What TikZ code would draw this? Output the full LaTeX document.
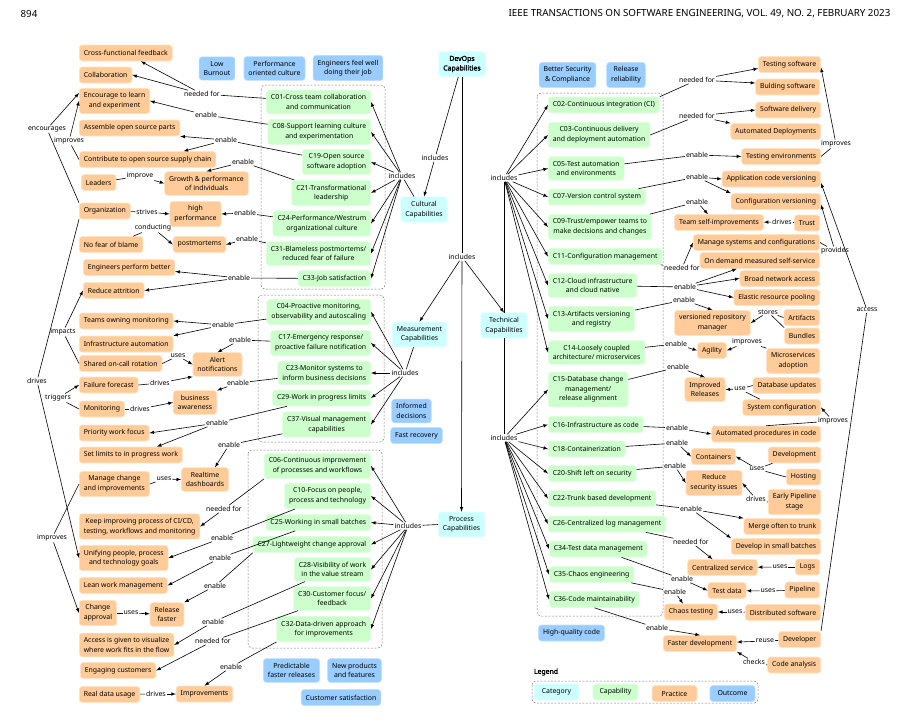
\documentclass[tikz,border=0pt]{standalone}
\usepackage{fontspec}
\setmainfont{Noto Sans}
\newfontfamily\boldsans{Noto Sans}[FakeBold=2.2]
\usepackage{xcolor}
\usepackage{tikz}
\definecolor{catfill}{HTML}{CCFFFF}
\definecolor{capfill}{HTML}{CCFFCC}
\definecolor{pracfill}{HTML}{FFCC99}
\definecolor{outfill}{HTML}{99CCFF}
\begin{document}
\begin{tikzpicture}[x=1pt, y=-1pt, line width=0.6pt,
  every node/.style={font=\fontsize{6.9}{9.6}\selectfont, align=center},
  box/.style={rounded corners=3pt, inner xsep=4.5pt, inner ysep=4.4pt, minimum height=16pt},
  catbox/.style={box, fill=catfill, draw=catfill!60!white},
  capbox/.style={box, fill=capfill, draw=capfill!60!white},
  pracbox/.style={box, fill=pracfill, draw=pracfill!55!white},
  outbox/.style={box, fill=outfill, draw=outfill!60!white},
  lbl/.style={inner sep=0.8pt},
  grp/.style={draw=gray, dash pattern=on 2pt off 1.5pt, rounded corners=4pt, line width=0.5pt}]
\fill[white] (0,0) rectangle (911,720);
\useasboundingbox (0,0) rectangle (911,720);
\node[anchor=west, font=\fontsize{9.8}{11}\selectfont] (pgno) at (17,14) {894};
\node[anchor=east, font=\fontsize{9.8}{11}\selectfont] (hdr) at (894,14) {IEEE TRANSACTIONS ON SOFTWARE ENGINEERING, VOL. 49, NO. 2, FEBRUARY 2023};

\draw[grp] (261,85) rectangle (385,289);
\draw[grp] (258,295) rectangle (384,442);
\draw[grp] (248,450) rectangle (382,648);
\draw[grp] (537,93) rectangle (663,616);

\node[outbox] (lowb) at (217,68.5) {Low\\Burnout};
\node[outbox] (perfc) at (274.5,68.5) {Performance\\oriented culture};
\node[outbox] (engw) at (348,68) {Engineers feel well\\doing their job};
\node[outbox] (bsec) at (567.5,75) {Better Security\\\& Compliance};
\node[outbox] (relr) at (626,75) {Release\\reliability};
\node[outbox] (infd) at (411.5,411) {Informed\\decisions};
\node[outbox] (fastr) at (416.5,435.5) {Fast recovery};
\node[outbox] (predf) at (291.5,670.5) {Predictable\\faster releases};
\node[outbox] (newp) at (354.5,670.5) {New products\\and features};
\node[outbox] (custs) at (341,697.5) {Customer satisfaction};
\node[outbox] (hqc) at (571.5,633) {High-quality code};

\node[catbox] (devops) at (462,64) {{\boldsans DevOps}\\{\boldsans Capabilities}};
\node[catbox] (cul) at (424,209.5) {Cultural\\Capabilities};
\node[catbox] (meas) at (419.5,334.5) {Measurement\\Capabilities};
\node[catbox] (tech) at (504,325.5) {Technical\\Capabilities};
\node[catbox] (proc) at (461.5,524.5) {Process\\Capabilities};

\node[capbox, anchor=east] (c01) at (371,102) {C01-Cross team collaboration\\and communication};
\node[capbox, anchor=east] (c08) at (371,132) {C08-Support learning culture\\and experimentation};
\node[capbox, anchor=east] (c19) at (371,162) {C19-Open source\\software adoption};
\node[capbox, anchor=east] (c21) at (371,193) {C21-Transformational\\leadership};
\node[capbox, anchor=east] (c24) at (371,223.5) {C24-Performance/Westrum\\organizational culture};
\node[capbox, anchor=east] (c31) at (371,253.5) {C31-Blameless postmortems/\\reduced fear of failure};
\node[capbox, anchor=east] (c33) at (371,278.5) {C33-Job satisfaction};
\node[capbox, anchor=east] (c04) at (371,312) {C04-Proactive monitoring,\\observability and autoscaling};
\node[capbox, anchor=east] (c17) at (371,343) {C17-Emergency response/\\proactive failure notification};
\node[capbox, anchor=east] (c23) at (371,373) {C23-Monitor systems to\\inform business decisions};
\node[capbox, anchor=east] (c29) at (371,398) {C29-Work in progress limits};
\node[capbox, anchor=east] (c37) at (371,424.5) {C37-Visual management\\capabilities};
\node[capbox, anchor=east] (c06) at (371,466) {C06-Continuous improvement\\of processes and workflows};
\node[capbox, anchor=east] (c10) at (371,496) {C10-Focus on people,\\process and technology};
\node[capbox, anchor=east] (c25) at (371,522.5) {C25-Working in small batches};
\node[capbox, anchor=east] (c27) at (371,544.5) {C27-Lightweight change approval};
\node[capbox, anchor=east] (c28) at (371,569.5) {C28-Visibility of work\\in the value stream};
\node[capbox, anchor=east] (c30) at (371,598.5) {C30-Customer focus/\\feedback};
\node[capbox, anchor=east] (c32) at (371,629) {C32-Data-driven approach\\for improvements};

\node[capbox, anchor=west] (c02) at (548,105) {C02-Continuous integration (CI)};
\node[capbox, anchor=west] (c03) at (548,135) {C03-Continuous delivery\\and deployment automation};
\node[capbox, anchor=west] (c05) at (548,168.5) {C05-Test automation\\and environments};
\node[capbox, anchor=west] (c07) at (548,197) {C07-Version control system};
\node[capbox, anchor=west] (c09) at (548,227) {C09-Trust/empower teams to\\make decisions and changes};
\node[capbox, anchor=west] (c11) at (548,256.5) {C11-Configuration management};
\node[capbox, anchor=west] (c12) at (548,285.5) {C12-Cloud infrastructure\\and cloud native};
\node[capbox, anchor=west] (c13) at (548,319) {C13-Artifacts versioning\\and registry};
\node[capbox, anchor=west] (c14) at (548,352.5) {C14-Loosely coupled\\architecture/ microservices};
\node[capbox, anchor=west] (c15) at (548,389.5) {C15-Database change\\management/\\release alignment};
\node[capbox, anchor=west] (c16) at (548,424.5) {C16-Infrastructure as code};
\node[capbox, anchor=west] (c18) at (548,449) {C18-Containerization};
\node[capbox, anchor=west] (c20) at (548,473.5) {C20-Shift left on security};
\node[capbox, anchor=west] (c22) at (548,498.5) {C22-Trunk based development};
\node[capbox, anchor=west] (c26) at (548,524) {C26-Centralized log management};
\node[capbox, anchor=west] (c34) at (549,549) {C34-Test data management};
\node[capbox, anchor=west] (c35) at (549,574.5) {C35-Chaos engineering};
\node[capbox, anchor=west] (c36) at (549,599.5) {C36-Code maintainability};

\node[pracbox, anchor=west] (cff) at (79,53) {Cross-functional feedback};
\node[pracbox, anchor=west] (collab) at (79,75) {Collaboration};
\node[pracbox, anchor=west] (enc) at (79,101) {Encourage to learn\\and experiment};
\node[pracbox, anchor=west] (asm) at (79,128) {Assemble open source parts};
\node[pracbox, anchor=west] (contr) at (79,159.5) {Contribute to open source supply chain};
\node[pracbox, anchor=west] (lead) at (81,182.5) {Leaders};
\node[pracbox] (growth) at (206.5,183.5) {Growth \& performance\\of individuals};
\node[pracbox, anchor=west] (org) at (79,211) {Organization};
\node[pracbox] (hiperf) at (195.5,214) {high\\performance};
\node[pracbox, anchor=west] (nofear) at (79,244.5) {No fear of blame};
\node[pracbox] (postm) at (199.5,244.5) {postmortems};
\node[pracbox, anchor=west] (engpb) at (83,267.5) {Engineers perform better};
\node[pracbox, anchor=west] (redatt) at (83,290.5) {Reduce attrition};
\node[pracbox, anchor=west] (teammon) at (79,321) {Teams owning monitoring};
\node[pracbox, anchor=west] (infra) at (79,344) {Infrastructure automation};
\node[pracbox, anchor=west] (oncall) at (79,363.5) {Shared on-call rotation};
\node[pracbox] (alert) at (217.5,364.5) {Alert\\notifications};
\node[pracbox, anchor=west] (failf) at (79,385) {Failure forecast};
\node[pracbox, anchor=west] (monit) at (79,409) {Monitoring};
\node[pracbox] (busaw) at (195,402.5) {business\\awareness};
\node[pracbox, anchor=west] (prio) at (79,433) {Priority work focus};
\node[pracbox, anchor=west] (setlim) at (79,455) {Set limits to in progress work};
\node[pracbox, anchor=west] (mchange) at (79,484) {Manage change\\and improvements};
\node[pracbox] (rtdash) at (205,479.5) {Realtime\\dashboards};
\node[pracbox, anchor=west] (keepimp) at (79,526.5) {Keep improving process of CI/CD,\\testing, workflows and monitoring};
\node[pracbox, anchor=west] (unify) at (79,558) {Unifying people, process\\and technology goals};
\node[pracbox, anchor=west] (lean) at (79,585.5) {Lean work management};
\node[pracbox, anchor=west] (chappr) at (79,613) {Change\\approval};
\node[pracbox] (relfast) at (167,614.5) {Release\\faster};
\node[pracbox, anchor=west] (access) at (79,645) {Access is given to visualize\\where work fits in the flow};
\node[pracbox, anchor=west] (engcust) at (80,670.5) {Engaging customers};
\node[pracbox, anchor=west] (realdata) at (79,694.5) {Real data usage};
\node[pracbox] (improv) at (204.5,694) {Improvements};

\node[pracbox, anchor=east] (testsw) at (821,64.5) {Testing software};
\node[pracbox, anchor=east] (buildsw) at (820,87) {Bulding software};
\node[pracbox, anchor=east] (swdel) at (821,110) {Software delivery};
\node[pracbox, anchor=east] (autodep) at (821,131.5) {Automated Deployments};
\node[pracbox, anchor=east] (testenv) at (821,156.5) {Testing environments};
\node[pracbox, anchor=east] (appver) at (821,179) {Application code versioning};
\node[pracbox, anchor=east] (confver) at (821,201.5) {Configuration versioning};
\node[pracbox] (selfimp) at (719,222.5) {Team self-improvements};
\node[pracbox, anchor=east] (trust) at (820,223) {Trust};
\node[pracbox, anchor=east] (mansys) at (820,242.5) {Manage systems and configurations};
\node[pracbox, anchor=east] (ondem) at (820,260.5) {On demand measured self-service};
\node[pracbox, anchor=east] (broadnet) at (820,278.5) {Broad network access};
\node[pracbox, anchor=east] (elastic) at (820,297.5) {Elastic resource pooling};
\node[pracbox] (repoman) at (712.5,323) {versioned repository\\manager};
\node[pracbox, anchor=east] (artif) at (820,317.5) {Artifacts};
\node[pracbox, anchor=east] (bundl) at (820,336) {Bundles};
\node[pracbox] (agil) at (712,350.5) {Agility};
\node[pracbox, anchor=east] (micro) at (820,361) {Microservices\\adoption};
\node[pracbox] (imprel) at (705,389.5) {Improved\\Releases};
\node[pracbox, anchor=east] (dbupd) at (821,385.5) {Database updates};
\node[pracbox, anchor=east] (syscon) at (821,407.5) {System configuration};
\node[pracbox, anchor=east] (autoproc) at (821,434) {Automated procedures in code};
\node[pracbox] (contain) at (713.5,456.5) {Containers};
\node[pracbox, anchor=east] (develop) at (821,455) {Development};
\node[pracbox, anchor=east] (hosting) at (821,477) {Hosting};
\node[pracbox] (redsec) at (714,483) {Reduce\\security issues};
\node[pracbox, anchor=east] (earlyp) at (821,502) {Early Pipeline\\stage};
\node[pracbox, anchor=east] (merge) at (821,526.5) {Merge often to trunk};
\node[pracbox, anchor=east] (smallb) at (821,546.5) {Develop in small batches};
\node[pracbox] (centsrv) at (722.5,567.5) {Centralized service};
\node[pracbox, anchor=east] (logs) at (820,567) {Logs};
\node[pracbox] (testd) at (727,590.5) {Test data};
\node[pracbox, anchor=east] (pipe) at (820,590) {Pipeline};
\node[pracbox] (chaost) at (691,612) {Chaos testing};
\node[pracbox, anchor=east] (distsw) at (821,612.5) {Distributed software};
\node[pracbox] (fastdev) at (700,643.5) {Faster development};
\node[pracbox, anchor=east] (developer) at (821,639.5) {Developer};
\node[pracbox, anchor=east] (codean) at (821,665) {Code analysis};

\node[lbl] (incdev) at (435,158) {includes};
\node[lbl] (incmain) at (462,257) {includes};
\draw (devops) -- (incdev);
\draw[-latex] (incdev) -- (cul.north);
\draw (devops) -- (incmain);
\draw[-latex] (incmain) -- (meas.north);
\draw[-latex] (incmain) -- (tech.north);
\draw[-latex] (incmain) -- (proc.north);

\node[lbl] (inccul) at (402,176) {includes};
\draw ([xshift=-10pt]cul.north) -- (inccul);
\draw[-latex] (inccul) -- (c01.east);
\draw[-latex] (inccul) -- (c08.east);
\draw[-latex] (inccul) -- (c19.east);
\draw[-latex] (inccul) -- (c21.east);
\draw[-latex] (inccul) -- (c24.east);
\draw[-latex] (inccul) -- (c31.east);
\draw[-latex] (inccul) -- (c33.east);

\node[lbl] (incmeas) at (405,373) {includes};
\draw ([xshift=-6pt]meas.south) -- (incmeas);
\draw[-latex] (incmeas) -- (c04.east);
\draw[-latex] (incmeas) -- (c17.east);
\draw[-latex] (incmeas) -- (c23.east);
\draw[-latex] (incmeas) -- (c29.east);
\draw[-latex] (incmeas) -- (c37.east);

\node[lbl] (incproc) at (408,526) {includes};
\draw (proc.west) -- (incproc);
\draw[-latex] (incproc) -- (c06.east);
\draw[-latex] (incproc) -- (c10.east);
\draw[-latex] (incproc) -- (c25.east);
\draw[-latex] (incproc) -- (c27.east);
\draw[-latex] (incproc) -- (c28.east);
\draw[-latex] (incproc) -- (c30.east);
\draw[-latex] (incproc) -- (c32.east);

\node[lbl] (inctecha) at (504,178) {includes};
\node[lbl] (inctechb) at (504,438) {includes};
\draw (tech.north) -- (inctecha);
\draw (tech.south) -- (inctechb);
\draw[-latex] (inctecha) -- (c02.west);
\draw[-latex] (inctecha) -- (c03.west);
\draw[-latex] (inctecha) -- (c05.west);
\draw[-latex] (inctecha) -- (c07.west);
\draw[-latex] (inctecha) -- (c09.west);
\draw[-latex] (inctecha) -- (c11.west);
\draw[-latex] (inctecha) -- (c12.west);
\draw[-latex] (inctecha) -- (c13.west);
\draw[-latex] (inctecha) -- (c14.west);
\draw[-latex] (inctechb) -- (c15.west);
\draw[-latex] (inctechb) -- (c16.west);
\draw[-latex] (inctechb) -- (c18.west);
\draw[-latex] (inctechb) -- (c20.west);
\draw[-latex] (inctechb) -- (c22.west);
\draw[-latex] (inctechb) -- (c26.west);
\draw[-latex] (inctechb) -- (c34.west);
\draw[-latex] (inctechb) -- (c35.west);
\draw[-latex] (inctechb) -- (c36.west);

\node[lbl] (nf1) at (202,94) {needed for};
\draw (c01) -- (nf1);
\draw[-latex] (nf1) -- ([xshift=15pt]cff.south);
\draw[-latex] (nf1) -- (collab.east);
\node[lbl] (en1) at (206,115) {enable};
\draw (c08) -- (en1);
\draw[-latex] (en1) -- (enc.east);
\node[lbl] (en2) at (226,140) {enable};
\draw (c19) -- (en2);
\draw[-latex] (en2) -- (asm.south east);
\draw[-latex] (en2) -- ([xshift=36pt]contr.north);
\node[lbl] (en3) at (243,162) {enable};
\draw (c21) -- (en3);
\draw[-latex] (en3) -- (growth.north);
\node[lbl] (imp1) at (140,176) {improve};
\draw (lead) -- (imp1);
\draw[-latex] (imp1) -- (growth.west);
\node[lbl] (str) at (147,212) {strives};
\draw (org) -- (str);
\draw[-latex] (str) -- (hiperf.west);
\node[lbl] (en4) at (245,213) {enable};
\draw (c24) -- (en4);
\draw[-latex] (en4) -- (hiperf.east);
\node[lbl] (cond) at (153,228) {conducting};
\draw ([xshift=-10pt]nofear.north east) -- (cond);
\draw[-latex] (cond) -- (postm.west);
\node[lbl] (en5) at (247,239) {enable};
\draw (c31) -- (en5);
\draw[-latex] (en5) -- (postm.east);
\node[lbl] (en6) at (239,278) {enable};
\draw (c33) -- (en6);
\draw[-latex] (en6) -- ([yshift=-4pt]engpb.east);
\draw[-latex] (en6) -- (redatt.east);
\node[lbl] (impc) at (63,332) {impacts};
\draw (oncall.west) -- (impc);
\draw[-latex] (impc) -- (redatt.west);
\node[lbl] (encr) at (47,129) {encourages};
\draw (org.north west) -- (encr);
\draw[-latex] (encr) -- ([yshift=8pt]enc.west);
\node[lbl] (imp2) at (69,141) {improves};
\draw (contr.west) -- (imp2);
\draw[-latex] (imp2) -- (enc.west);
\node[lbl] (drv1) at (37,381) {drives};
\draw (org.south west) -- (drv1);
\draw[-latex] (drv1) -- (unify.west);
\node[lbl] (imp3) at (52,538) {improves};
\draw (mchange.west) -- (imp3);
\draw[-latex] (imp3) -- (chappr.west);

\node[lbl] (en7) at (223,325) {enable};
\draw (c04) -- (en7);
\draw[-latex] (en7) -- (teammon.east);
\draw[-latex] (en7) -- (infra.north east);
\node[lbl] (en8) at (240,340) {enable};
\draw (c17) -- (en8);
\draw[-latex] (en8) -- (alert.north);
\node[lbl] (use1) at (178,356) {uses};
\draw (oncall.east) -- (use1);
\draw[-latex] (use1) -- (alert.west);
\node[lbl] (drv2) at (160,383) {drives};
\draw (failf.east) -- (drv2);
\draw[-latex] (drv2) -- (alert.south west);
\node[lbl] (trg) at (58,398) {triggers};
\draw (monit.west) -- (trg);
\draw[-latex] (trg) -- (failf.west);
\node[lbl] (drv3) at (140,409) {drives};
\draw (monit.east) -- (drv3);
\draw[-latex] (drv3) -- (busaw.west);
\node[lbl] (en9) at (238,383) {enable};
\draw (c23) -- (en9);
\draw[-latex] (en9) -- (busaw.north east);
\node[lbl] (en10) at (217,423) {enable};
\draw (c29) -- (en10);
\draw[-latex] (en10) -- (prio.east);
\draw[-latex] (en10) -- ([xshift=26pt]setlim.north);
\node[lbl] (en11) at (229,445) {enable};
\draw (c37) -- (en11);
\draw[-latex] (en11) -- ([xshift=10pt]rtdash.north);
\node[lbl] (use2) at (164,479) {uses};
\draw (mchange.east) -- (use2);
\draw[-latex] (use2) -- (rtdash.west);

\node[lbl] (nf2) at (224,509) {needed for};
\draw (c06.south west) -- (nf2);
\draw[-latex] (nf2) -- (keepimp.east);
\node[lbl] (en12) at (222,538) {enable};
\draw (c10) -- (en12);
\draw[-latex] (en12) -- (unify.east);
\node[lbl] (en13) at (220,558) {enable};
\draw (c25) -- (en13);
\draw[-latex] (en13) -- (lean.east);
\node[lbl] (en14) at (215,586) {enable};
\draw (c27.south west) -- (en14);
\draw[-latex] (en14) -- (relfast.north east);
\node[lbl] (en15) at (213,622) {enable};
\draw (c28) -- (en15);
\draw[-latex] (en15) -- (access.east);
\node[lbl] (nf3) at (213,641) {needed for};
\draw (c30) -- (nf3);
\draw[-latex] (nf3) -- (engcust.east);
\node[lbl] (en16) at (231,667) {enable};
\draw (c32.south west) -- (en16);
\draw[-latex] (en16) -- (improv.north);
\node[lbl] (use3) at (131,613) {uses};
\draw (chappr) -- (use3);
\draw[-latex] (use3) -- (relfast);
\node[lbl] (drv4) at (156,694) {drives};
\draw (realdata) -- (drv4);
\draw[-latex] (drv4) -- (improv);

\node[lbl] (nf4) at (697,80) {needed for};
\draw (c02.north east) -- (nf4);
\draw[-latex] (nf4) -- ([yshift=-4pt]testsw.west);
\draw[-latex] (nf4) -- ([yshift=4pt]buildsw.west);
\node[lbl] (nf5) at (697,116) {needed for};
\draw (c03.east) -- (nf5);
\draw[-latex] (nf5) -- (swdel.west);
\draw[-latex] (nf5) -- (autodep.north west);
\node[lbl] (en20) at (697,155) {enable};
\draw (c05) -- (en20);
\draw[-latex] (en20) -- (testenv.west);
\node[lbl] (imp4) at (836,144) {improves};
\draw (testenv.east) -- (imp4);
\draw[-latex] (imp4) -- ([yshift=-3pt]testsw.east);
\node[lbl] (en21) at (697,177) {enable};
\draw (c07) -- (en21);
\draw[-latex] (en21) -- (appver.west);
\draw[-latex] (en21) -- (confver.north west);
\node[lbl] (en22) at (697,202) {enable};
\draw (c09) -- (en22);
\draw[-latex] (en22) -- ([xshift=-11pt]selfimp.north);
\node[lbl] (drv5) at (782,222) {drives};
\draw (trust) -- (drv5);
\draw[-latex] (drv5) -- (selfimp);
\node[lbl] (nf6) at (682,268) {needed for};
\draw (c11) -- (nf6);
\draw[-latex] (nf6) -- (mansys.west);
\node[lbl] (prov) at (835,251) {provides};
\draw (mansys.east) -- (prov);
\draw[-latex] (prov) -- ([yshift=-3pt]confver.east);
\node[lbl] (acc) at (867,310) {access};
\draw (developer.north east) -- (acc);
\draw[-latex] (acc) -- ([yshift=-4pt]appver.east);
\node[lbl] (en23) at (685,287) {enable};
\draw (c12) -- (en23);
\draw[-latex] (en23) -- ([xshift=-23pt]ondem.south);
\draw[-latex] (en23) -- (broadnet.west);
\draw[-latex] (en23) -- (elastic.west);
\node[lbl] (en24) at (684,300) {enable};
\draw (c13) -- (en24);
\draw[-latex] (en24) -- (repoman.north);
\node[lbl] (stor) at (768,312) {stores};
\draw (artif.west) -- (stor);
\draw (bundl.north west) -- (stor);
\draw[-latex] (stor) -- (repoman.east);
\node[lbl] (en25) at (676,344) {enable};
\draw (c14) -- (en25);
\draw[-latex] (en25) -- (agil.west);
\node[lbl] (imp5) at (747,342) {improves};
\draw (micro.north west) -- (imp5);
\draw[-latex] (imp5) -- (agil.east);
\node[lbl] (en26) at (678,367) {enable};
\draw (c15) -- (en26);
\draw[-latex] (en26) -- (imprel.north);
\node[lbl] (use4) at (740,389) {use};
\draw (dbupd.west) -- (use4);
\draw ([xshift=-22pt]syscon.north) -- (use4);
\draw[-latex] (use4) -- (imprel.east);
\node[lbl] (en27) at (677,428) {enable};
\draw (c16) -- (en27);
\draw[-latex] (en27) -- (autoproc.west);
\node[lbl] (imp6) at (833,421) {improves};
\draw (autoproc.north) -- (imp6);
\draw[-latex] (imp6) -- (syscon.east);
\node[lbl] (en28) at (677,443) {enable};
\draw (c18) -- (en28);
\draw[-latex] (en28) -- (contain.west);
\node[lbl] (use5) at (757,469) {uses};
\draw ([xshift=-22pt]develop.south) -- (use5);
\draw (hosting.west) -- (use5);
\draw[-latex] (use5) -- (contain.east);
\node[lbl] (en29) at (675,466) {enable};
\draw (c20) -- (en29);
\draw[-latex] (en29) -- (redsec.west);
\node[lbl] (drv6) at (756,499) {drives};
\draw (earlyp.west) -- (drv6);
\draw[-latex] (drv6) -- (redsec.east);
\node[lbl] (en30) at (691,509) {enable};
\draw (c22) -- (en30);
\draw[-latex] (en30) -- (merge.north west);
\draw[-latex] (en30) -- (smallb.north west);
\node[lbl] (nf7) at (691,542) {needed for};
\draw (c26) -- (nf7);
\draw[-latex] (nf7) -- ([xshift=-10pt]centsrv.north);
\node[lbl] (use6) at (780,567) {uses};
\draw (logs) -- (use6);
\draw[-latex] (use6) -- (centsrv);
\node[lbl] (en31) at (682,579) {enable};
\draw (c34) -- (en31);
\draw[-latex] (en31) -- (testd.west);
\node[lbl] (use7) at (768,591) {uses};
\draw (pipe) -- (use7);
\draw[-latex] (use7) -- (testd);
\node[lbl] (en32) at (675,592) {enable};
\draw (c35) -- (en32);
\draw[-latex] (en32) -- ([xshift=-8pt]chaost.north);
\node[lbl] (use8) at (735,612) {uses};
\draw (distsw) -- (use8);
\draw[-latex] (use8) -- (chaost);
\node[lbl] (en33) at (657,628) {enable};
\draw (c36.south) -- (en33);
\draw[-latex] (en33) -- (fastdev.north);
\node[lbl] (reu) at (765,641) {reuse};
\draw (developer) -- (reu);
\draw[-latex] (reu) -- (fastdev);
\node[lbl] (chk) at (754,662) {checks};
\draw (codean.west) -- (chk);
\draw[-latex] (chk) -- (fastdev.south east);

\node (legend) at (546,672) {\boldsans Legend};
\draw[grp] (532,681) rectangle (758,703);
\node[catbox, minimum width=45pt] (lgcat) at (556.5,692) {Category};
\node[capbox, minimum width=45pt] (lgcap) at (615.5,692) {Capability};
\node[pracbox, minimum width=45pt] (lgprac) at (674.5,693.5) {Practice};
\node[outbox, minimum width=45pt] (lgout) at (732.5,693.5) {Outcome};
\end{tikzpicture}
\end{document}
